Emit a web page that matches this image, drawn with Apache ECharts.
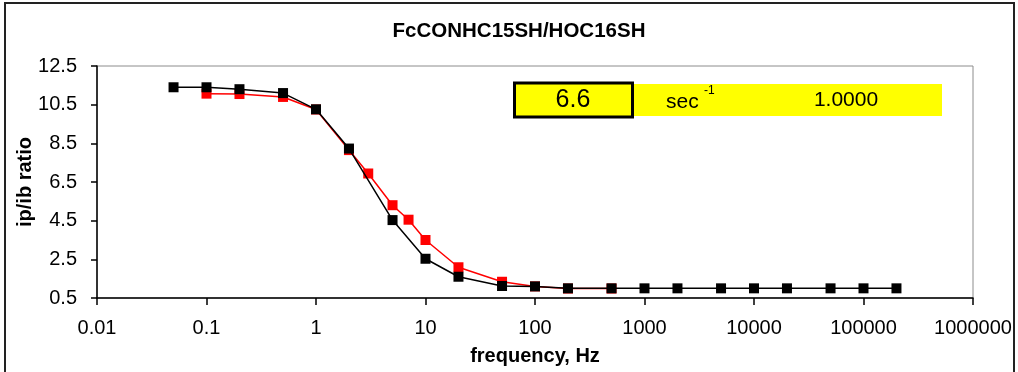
<!DOCTYPE html>
<html>
<head>
<meta charset="utf-8">
<script src="https://cdn.jsdelivr.net/npm/echarts@6/dist/echarts.min.js"></script>
<style>
html,body{margin:0;padding:0;background:#fff;}
#chart{width:1018px;height:372px;}
</style>
</head>
<body>
<div id="chart"></div>
<script>
// ---- data ----
const blackFreq = [0.05, 0.1, 0.2, 0.5, 1, 2, 5, 10, 20, 50, 100, 200, 500, 1000, 2000, 5000, 10000, 20000, 50000, 100000, 200000];
const blackRatio = [11.4, 11.4, 11.3, 11.1, 10.26, 8.23, 4.53, 2.53, 1.6, 1.12, 1.1, 1.0, 1.0, 1.0, 1.0, 1.0, 1.0, 1.0, 1.0, 1.0, 1.0];
const redFreq = [0.1, 0.2, 0.5, 1, 2, 3, 5, 7, 10, 20, 50, 100, 200, 500];
const redRatio = [11.07, 11.05, 10.9, 10.25, 8.15, 6.94, 5.3, 4.55, 3.5, 2.09, 1.34, 1.1, 0.99, 0.99];
const xTickLabels = ['0.01', '0.1', '1', '10', '100', '1000', '10000', '100000', '1000000'];
const yTickLabels = ['0.5', '2.5', '4.5', '6.5', '8.5', '10.5', '12.5'];
const titleText = 'FcCONHC15SH/HOC16SH';
const xName = 'frequency, Hz';
const yName = 'ip/ib ratio';
const boxTexts = ['6.6', 'sec', '-1', '1.0000'];

const FONT = "'Liberation Sans', Arial, Helvetica, sans-serif";
const pairs = (xs, ys) => xs.map((x, i) => [x, ys[i]]);

const chart = echarts.init(document.getElementById('chart'), null, {renderer: 'canvas'});
chart.setOption({
  animation: false,
  backgroundColor: '#ffffff',
  title: {
    text: titleText,
    left: 514,
    textAlign: 'center',
    top: 16,
    textStyle: {fontFamily: FONT, fontSize: 20.5, fontWeight: 'bold', color: '#000'}
  },
  grid: {
    left: 97, right: 45, top: 66, bottom: 74,
    show: true, borderColor: '#8c8c8c', borderWidth: 1, backgroundColor: 'transparent'
  },
  xAxis: {
    type: 'log', logBase: 10, min: 0.01, max: 1000000,
    name: xName, nameLocation: 'middle', nameGap: 48,
    nameTextStyle: {fontFamily: FONT, fontSize: 20, fontWeight: 'bold', color: '#000'},
    axisLine: {show: true, lineStyle: {color: '#000', width: 1.5}},
    axisTick: {show: true, inside: false, length: 7, lineStyle: {color: '#000', width: 1.5}},
    minorTick: {show: false},
    splitLine: {show: false},
    axisLabel: {
      margin: 20, fontFamily: FONT, fontSize: 20, color: '#000',
      formatter: v => xTickLabels[Math.round(Math.log10(v)) + 2]
    }
  },
  yAxis: {
    type: 'value', min: 0.5, max: 12.5, interval: 2,
    name: yName, nameLocation: 'middle', nameGap: 62, nameRotate: 90,
    nameMoveOverlap: false,
    nameTextStyle: {fontFamily: FONT, fontSize: 20, fontWeight: 'bold', color: '#000'},
    axisLine: {show: true, lineStyle: {color: '#000', width: 1.5}},
    axisTick: {show: true, inside: false, length: 6, lineStyle: {color: '#000', width: 1.5}},
    splitLine: {show: false},
    axisLabel: {
      margin: 20, fontFamily: FONT, fontSize: 20, color: '#000',
      formatter: v => yTickLabels[Math.round((v - 0.5) / 2)]
    }
  },
  series: [
    {
      type: 'line', name: 'red', data: pairs(redFreq, redRatio),
      symbol: 'rect', symbolSize: 10, z: 2,
      lineStyle: {color: '#ff0000', width: 1.5},
      itemStyle: {color: '#ff0000'}
    },
    {
      type: 'line', name: 'black', data: pairs(blackFreq, blackRatio),
      symbol: 'rect', symbolSize: 10, z: 3,
      lineStyle: {color: '#000000', width: 1.5},
      itemStyle: {color: '#000000'}
    }
  ],
  graphic: [
    {type: 'rect', shape: {x: 5, y: 3, width: 1009, height: 375}, style: {fill: 'none', stroke: '#222', lineWidth: 2}, silent: true},
    {type: 'rect', shape: {x: 513, y: 84, width: 429, height: 32}, style: {fill: '#ffff00'}, silent: true, z: 10},
    {type: 'rect', shape: {x: 514.5, y: 83, width: 118, height: 34}, style: {fill: '#ffff00', stroke: '#000', lineWidth: 3}, silent: true, z: 11},
    {type: 'text', x: 573, y: 100, style: {text: boxTexts[0], fontFamily: FONT, fontSize: 25, fill: '#000', align: 'center', verticalAlign: 'middle'}, z: 12},
    {type: 'text', x: 666, y: 102, style: {text: boxTexts[1], fontFamily: FONT, fontSize: 21, fill: '#000', align: 'left', verticalAlign: 'middle'}, z: 12},
    {type: 'text', x: 704, y: 91, style: {text: boxTexts[2], fontFamily: FONT, fontSize: 12, fill: '#000', align: 'left', verticalAlign: 'middle'}, z: 12},
    {type: 'text', x: 846, y: 100, style: {text: boxTexts[3], fontFamily: FONT, fontSize: 21, fill: '#000', align: 'center', verticalAlign: 'middle'}, z: 12}
  ]
});
</script>
</body>
</html>
